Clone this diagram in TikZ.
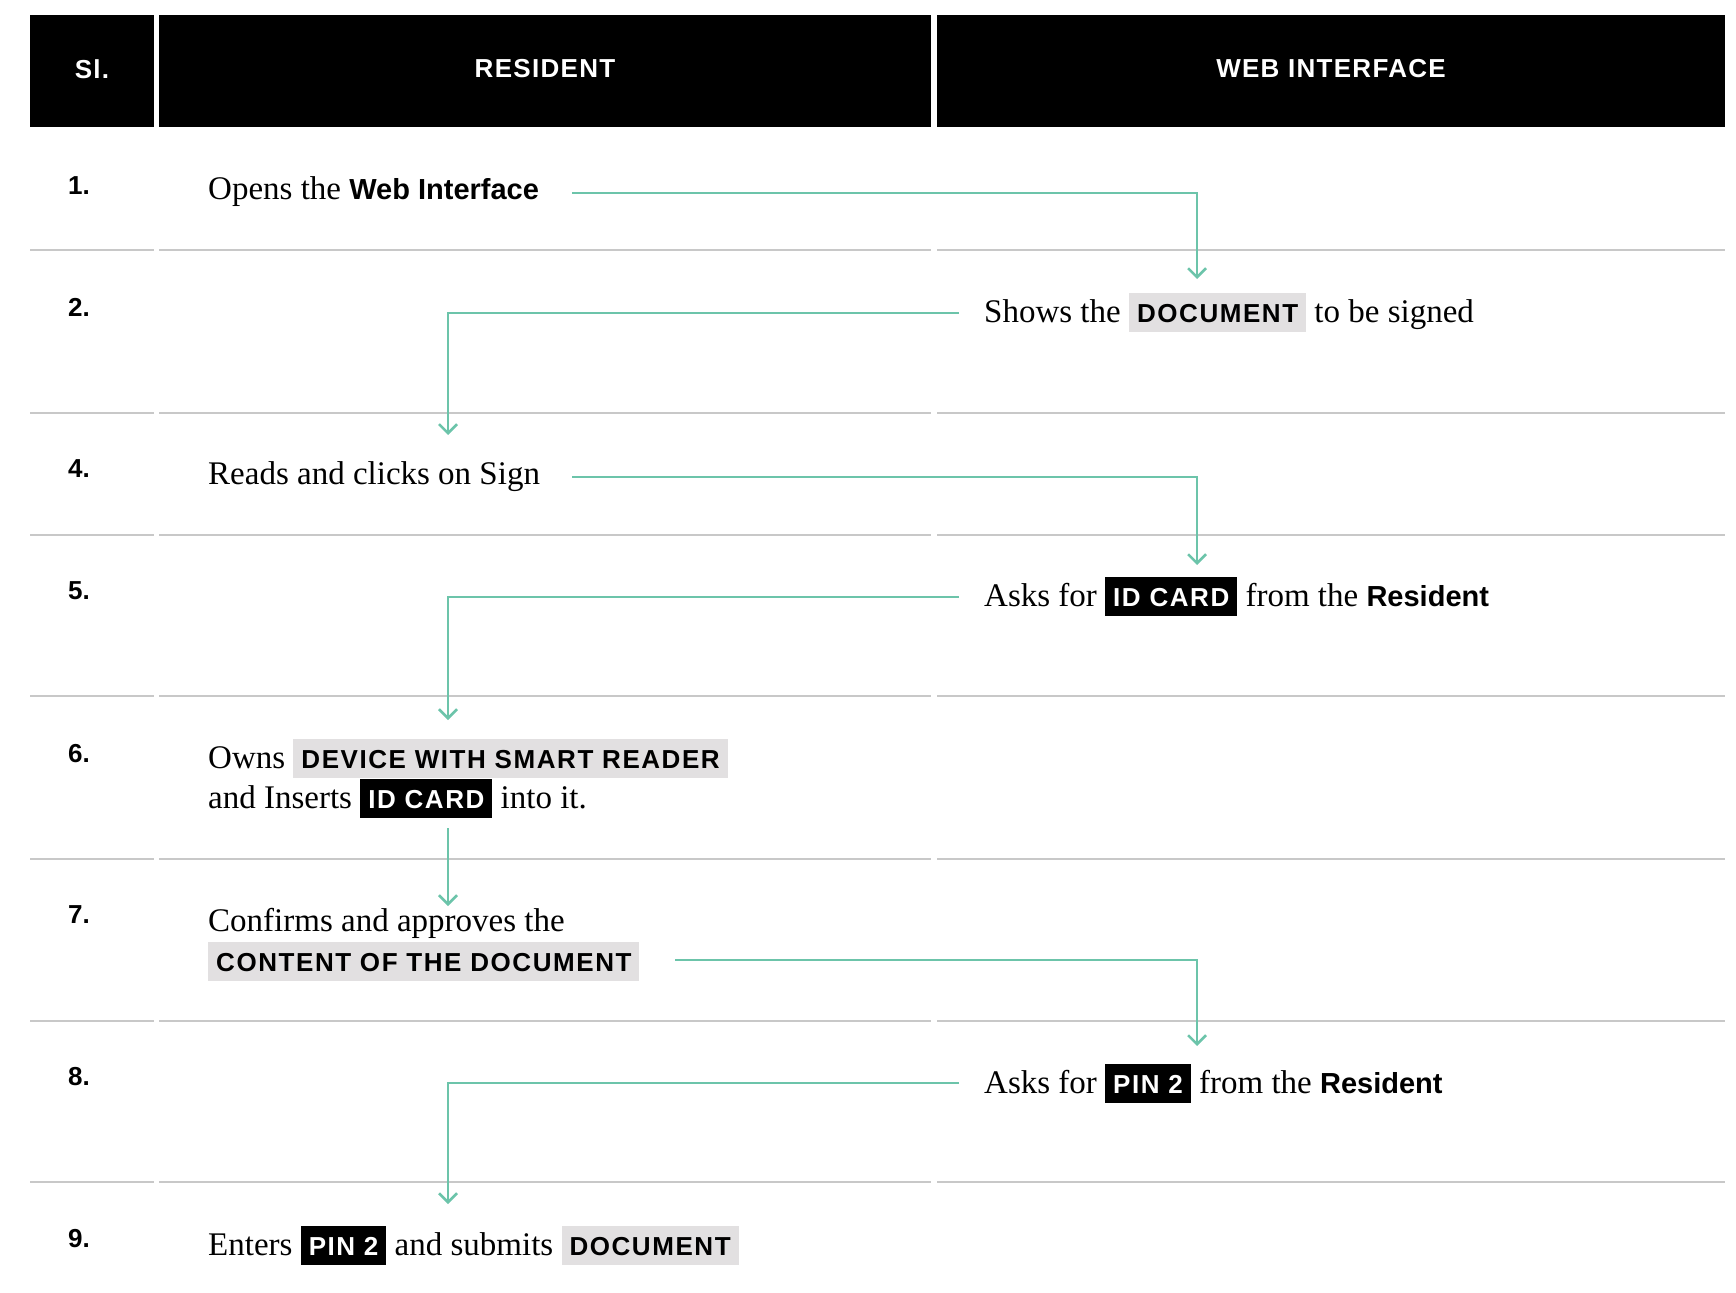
\documentclass[tikz,border=0pt]{standalone}
\usepackage{fontspec}
\setmainfont{Liberation Serif}
\setsansfont{Liberation Sans}
\newfontfamily\tagfamily[LetterSpace=6]{Liberation Sans}
\newfontfamily\headfamily[LetterSpace=5]{Liberation Sans}
\usepackage{tikz}
\usetikzlibrary{arrows.meta}

\definecolor{flowgreen}{RGB}{108,196,170}
\definecolor{taggrey}{RGB}{226,224,225}
\definecolor{linegrey}{RGB}{200,200,200}

\newcommand{\greytag}[1]{{\setlength{\fboxsep}{0pt}\colorbox{taggrey}{\rule[-10pt]{0pt}{39pt}\hspace{8pt}\tagfamily\bfseries\fontsize{26}{30}\selectfont #1\hspace{8pt}}}}
\newcommand{\blacktag}[1]{{\setlength{\fboxsep}{0pt}\colorbox{black}{\rule[-10pt]{0pt}{39pt}\hspace{8pt}\color{white}\tagfamily\bfseries\fontsize{26}{30}\selectfont #1\hspace{8pt}}}}
\newcommand{\boldword}[1]{{\sffamily\bfseries\fontsize{29}{40}\selectfont #1}}

\begin{document}
\begin{tikzpicture}[x=1pt,y=-1pt,
        headcell/.style={fill=black,text=white,minimum height=111.5pt,inner sep=0pt,
                         text depth=5pt,
                         font=\headfamily\bfseries\fontsize{26}{30}\selectfont},
        rowline/.style={draw=linegrey,line width=2pt},
        elbow/.style={to path={-| (\tikztotarget)}}]
        \useasboundingbox (0,0) rectangle (1736,1292);

        \begin{scope}[every node/.style={headcell}]
            \node (H1) [minimum width=124pt] at (92,71.25) {Sl.};
            \node (H2) [minimum width=772pt] at (545,71.25) {RESIDENT};
            \node (H3) [minimum width=788pt] at (1331,71.25) {WEB INTERFACE};
        \end{scope}

        \draw [rowline] (30,250) -- (154,250) (159,250) -- (931,250) (937,250) -- (1725,250);
        \draw [rowline] (30,413) -- (154,413) (159,413) -- (931,413) (937,413) -- (1725,413);
        \draw [rowline] (30,535) -- (154,535) (159,535) -- (931,535) (937,535) -- (1725,535);
        \draw [rowline] (30,696) -- (154,696) (159,696) -- (931,696) (937,696) -- (1725,696);
        \draw [rowline] (30,859) -- (154,859) (159,859) -- (931,859) (937,859) -- (1725,859);
        \draw [rowline] (30,1021) -- (154,1021) (159,1021) -- (931,1021) (937,1021) -- (1725,1021);
        \draw [rowline] (30,1182) -- (154,1182) (159,1182) -- (931,1182) (937,1182) -- (1725,1182);

        \begin{scope}[every node/.style={anchor=base west,inner sep=0pt,
                      font=\sffamily\bfseries\fontsize{26}{30}\selectfont}]
            \node (N1) at (68,194) {1.};
            \node (N2) at (68,316) {2.};
            \node (N4) at (68,477) {4.};
            \node (N5) at (68,599) {5.};
            \node (N6) at (68,762) {6.};
            \node (N7) at (68,923) {7.};
            \node (N8) at (68,1085) {8.};
            \node (N9) at (68,1247) {9.};
        \end{scope}

        \begin{scope}[every node/.style={anchor=base west,inner sep=0pt,align=left,
                      font=\fontsize{33}{40}\selectfont}]
            \node (R1) at (208,200) {Opens the \boldword{Web Interface}};
            \node (W2) at (984,322) {Shows the \greytag{DOCUMENT} to be signed};
            \node (R4) at (208,484) {Reads and clicks on Sign};
            \node (W5) at (984,606) {Asks for \blacktag{ID CARD} from the \boldword{Resident}};
            \node (R6) at (208,808) {Owns \greytag{DEVICE WITH SMART READER}\\and Inserts \blacktag{ID CARD} into it.};
            \node (R7) at (208,971) {Confirms and approves the\\\greytag{CONTENT OF THE DOCUMENT}};
            \node (W8) at (984,1093) {Asks for \blacktag{PIN 2} from the \boldword{Resident}};
            \node (R9) at (208,1255) {Enters \blacktag{PIN 2} and submits \greytag{DOCUMENT}};
        \end{scope}

        \coordinate (a1) at (572,193);
        \coordinate (b1) at (1197,279);
        \coordinate (a2) at (959,313);
        \coordinate (b2) at (448,435);
        \coordinate (a4) at (572,477);
        \coordinate (b4) at (1197,565);
        \coordinate (a5) at (959,597);
        \coordinate (b5) at (448,720);
        \coordinate (a6) at (448,828);
        \coordinate (b6) at (448,906);
        \coordinate (a7) at (675,960);
        \coordinate (b7) at (1197,1046);
        \coordinate (a8) at (959,1083);
        \coordinate (b8) at (448,1204);

        \begin{scope}[>={Straight Barb[length=9pt,width=18pt]},
                      every edge/.style={draw=flowgreen,line width=2.5pt}]
            \path [->,elbow] (a1) edge (b1);
            \path [->,elbow] (a2) edge (b2);
            \path [->,elbow] (a4) edge (b4);
            \path [->,elbow] (a5) edge (b5);
            \path [->] (a6) edge (b6);
            \path [->,elbow] (a7) edge (b7);
            \path [->,elbow] (a8) edge (b8);
        \end{scope}
    \end{tikzpicture}
\end{document}
